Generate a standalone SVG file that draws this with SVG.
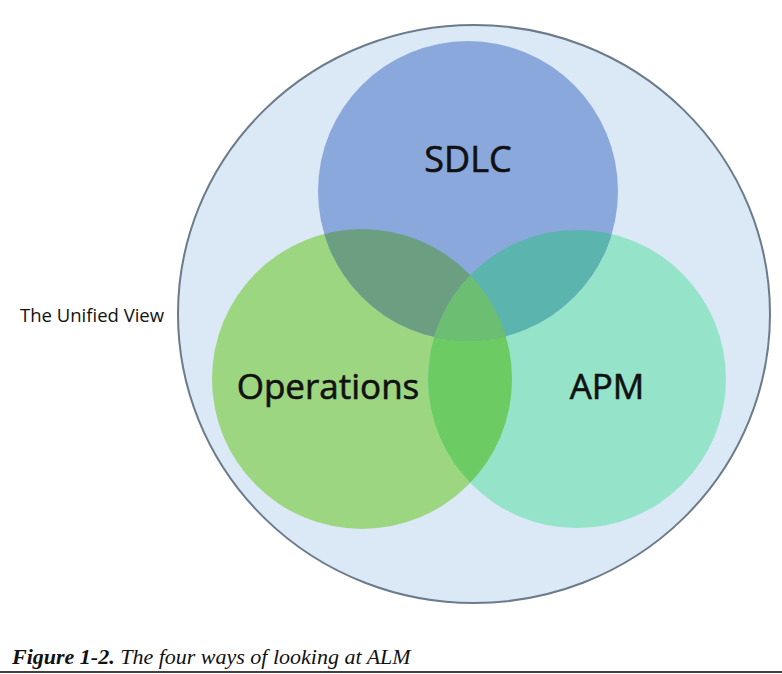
<svg xmlns="http://www.w3.org/2000/svg" width="782" height="674" viewBox="0 0 782 674">
<style>
.lbl{font-family:"Open Sans","Noto Sans",sans-serif;fill:#111;stroke:#111;stroke-width:0.6;text-anchor:middle}
.cap{font-family:"Liberation Serif",serif;font-style:italic;font-size:22px;fill:#111}
</style>
<defs>
<clipPath id="cOps"><circle cx="362" cy="379" r="150"/></clipPath>
<clipPath id="cApm"><circle cx="577" cy="379" r="149"/></clipPath>
<clipPath id="cSdlc"><circle cx="468" cy="191" r="150"/></clipPath>
</defs>
<rect width="782" height="674" fill="#fff"/>
<g id="unified">
<ellipse cx="474" cy="314" rx="296" ry="289" fill="#dbe8f5" stroke="#6b7b8a" stroke-width="2"/>
<text x="20" y="322" font-family="Open Sans,Noto Sans,sans-serif" font-size="18.5" fill="#111">The Unified View</text>
</g>
<g id="operations">
<circle cx="362" cy="379" r="150" fill="#9dd680"/>
</g>
<g id="apm">
<circle cx="577" cy="379" r="149" fill="#95e3c8"/>
</g>
<g id="sdlc">
<circle cx="468" cy="191" r="150" fill="#8aa8dc"/>
</g>
<g id="overlaps">
<circle cx="577" cy="379" r="149" fill="#6ccb62" clip-path="url(#cOps)"/>
<circle cx="468" cy="191" r="150" fill="#6c9f82" clip-path="url(#cOps)"/>
<circle cx="468" cy="191" r="150" fill="#5bb4ad" clip-path="url(#cApm)"/>
<g clip-path="url(#cApm)"><circle cx="468" cy="191" r="150" fill="#6cbf72" clip-path="url(#cOps)"/></g>
</g>
<g id="labels">
<text class="lbl" x="468" y="172" font-size="36">SDLC</text>
<text class="lbl" x="328" y="399" font-size="35">Operations</text>
<text class="lbl" x="607" y="399" font-size="35">APM</text>
</g>
<g id="connectors"></g>
<g id="caption">
<text class="cap" x="12" y="664"><tspan font-weight="bold">Figure 1-2.</tspan>  The four ways of looking at ALM</text>
<line x1="0" y1="672" x2="782" y2="672" stroke="#000" stroke-width="1.5"/>
</g>
</svg>
